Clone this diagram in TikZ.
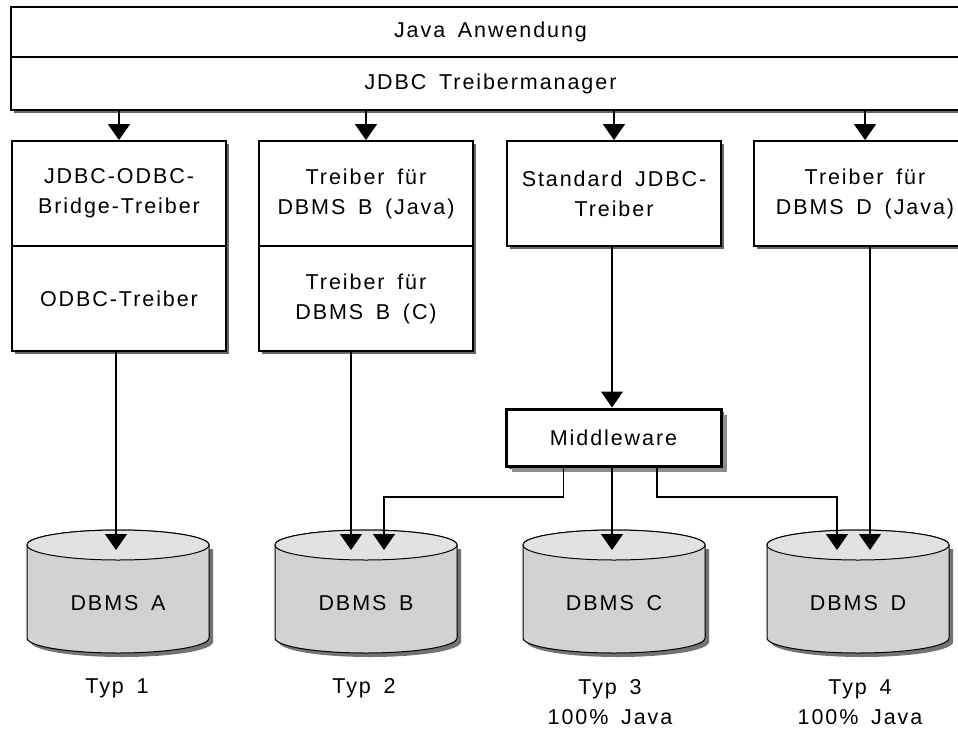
\documentclass[tikz,border=0pt]{standalone}
\usepackage{fontspec}
\setmainfont{Liberation Sans}[LetterSpace=9,WordSpace=1.6]
\usetikzlibrary{arrows.meta,shadows}

\definecolor{dbgray}{HTML}{D2D2D2}
\definecolor{dblight}{HTML}{E2E2E2}

% cylinder: name, x of centre, label
\newcommand{\dbms}[3]{%
  \begin{scope}[shift={(#2,0)}]
    \fill[black!55] (-87,549) -- (-87,642) arc[start angle=180,end angle=360,x radius=91pt,y radius=15pt] -- (95,549) -- cycle;
    \filldraw[fill=dbgray,line width=1pt] (-91,545) -- (-91,638) arc[start angle=180,end angle=360,x radius=91pt,y radius=15pt] -- (91,545) arc[start angle=0,end angle=180,x radius=91pt,y radius=15pt] -- cycle;
    \filldraw[fill=dblight,line width=1pt] (0,545) ellipse[x radius=91pt,y radius=15pt];
  \end{scope}
  \node (#1) at (#2,603) {#3};
  \coordinate (#1-top) at (#2,550);
}

\begin{document}
\begin{tikzpicture}[x=1pt,y=-1pt,font=\fontsize{21.5}{30}\selectfont,
  box/.style={draw,line width=1.8pt,fill=white,align=center,inner sep=2pt,
    minimum width=214pt,minimum height=105pt,
    drop shadow={shadow xshift=3pt,shadow yshift=-3pt,fill=black!60,opacity=1}},
  bar/.style={box,minimum width=959pt,shadow xshift=6pt,shadow yshift=-5pt},
  arr/.style={-{Triangle[length=16pt,width=22pt]},line width=1.3pt}]
\useasboundingbox (0,0) rectangle (958,731);
\clip (0,0) rectangle (958,731);

\node[bar,minimum height=50pt] (app) at (490.5,32) {Java Anwendung};
\node[bar,minimum height=53pt] (mgr) at (490.5,83.5) {JDBC Treibermanager};

\node[box] (bridge) at (119,193.5) {JDBC-ODBC-\\Bridge-Treiber};
\node[box] (odbc) at (119,298.5) {ODBC-Treiber};
\node[box] (javaB) at (366,193.5) {Treiber für\\DBMS B (Java)};
\node[box] (nativeB) at (366,298.5) {Treiber für\\DBMS B (C)};
\node[box] (stdC) at (614,193.5) {Standard JDBC-\\Treiber};
\node[box,minimum width=222pt] (javaD) at (865,193.5) {Treiber für\\DBMS D (Java)};

\node[box,line width=3pt,minimum width=215pt,minimum height=57pt,
  drop shadow={shadow xshift=6pt,shadow yshift=-6pt,fill=black!45,opacity=1}] (mw) at (613.5,437.5) {Middleware};

\dbms{dbA}{118}{DBMS A}
\dbms{dbB}{366}{DBMS B}
\dbms{dbC}{614}{DBMS C}
\dbms{dbD}{858}{DBMS D}

\node (typA) at (117,688) {Typ 1};
\node (typB) at (364,688) {Typ 2};
\node[align=center] (typC) at (610,702.5) {Typ 3\\100\% Java};
\node[align=center] (typD) at (860,702.5) {Typ 4\\100\% Java};

\coordinate (jB) at (384,497);
\coordinate (jD) at (837,497);

\draw[arr] (mgr.south -| bridge.north) -- (bridge.north);
\draw[arr] (mgr.south -| javaB.north) -- (javaB.north);
\draw[arr] (mgr.south -| stdC.north) -- (stdC.north);
\draw[arr] (mgr.south -| javaD.north) -- (javaD.north);

\draw[arr] ([xshift=-3pt]odbc.south) -- ([xshift=-3pt]odbc.south |- dbA-top);
\draw[arr] ([xshift=-15pt]nativeB.south) -- ([xshift=-15pt]nativeB.south |- dbB-top);
\draw[arr] ([xshift=-2pt]stdC.south) -- ([xshift=-2pt]stdC.south |- mw.north);
\draw[arr] ([xshift=5pt]javaD.south) -- ([xshift=5pt]javaD.south |- dbD-top);

\draw[arr] ([xshift=-50pt]mw.south) |- (jB) -- (jB |- dbB-top);
\draw[arr] ([xshift=-1.5pt]mw.south) -- ([xshift=-1.5pt]mw.south |- dbC-top);
\draw[arr] ([xshift=43.5pt]mw.south) |- (jD) -- (jD |- dbD-top);
\end{tikzpicture}
\end{document}
